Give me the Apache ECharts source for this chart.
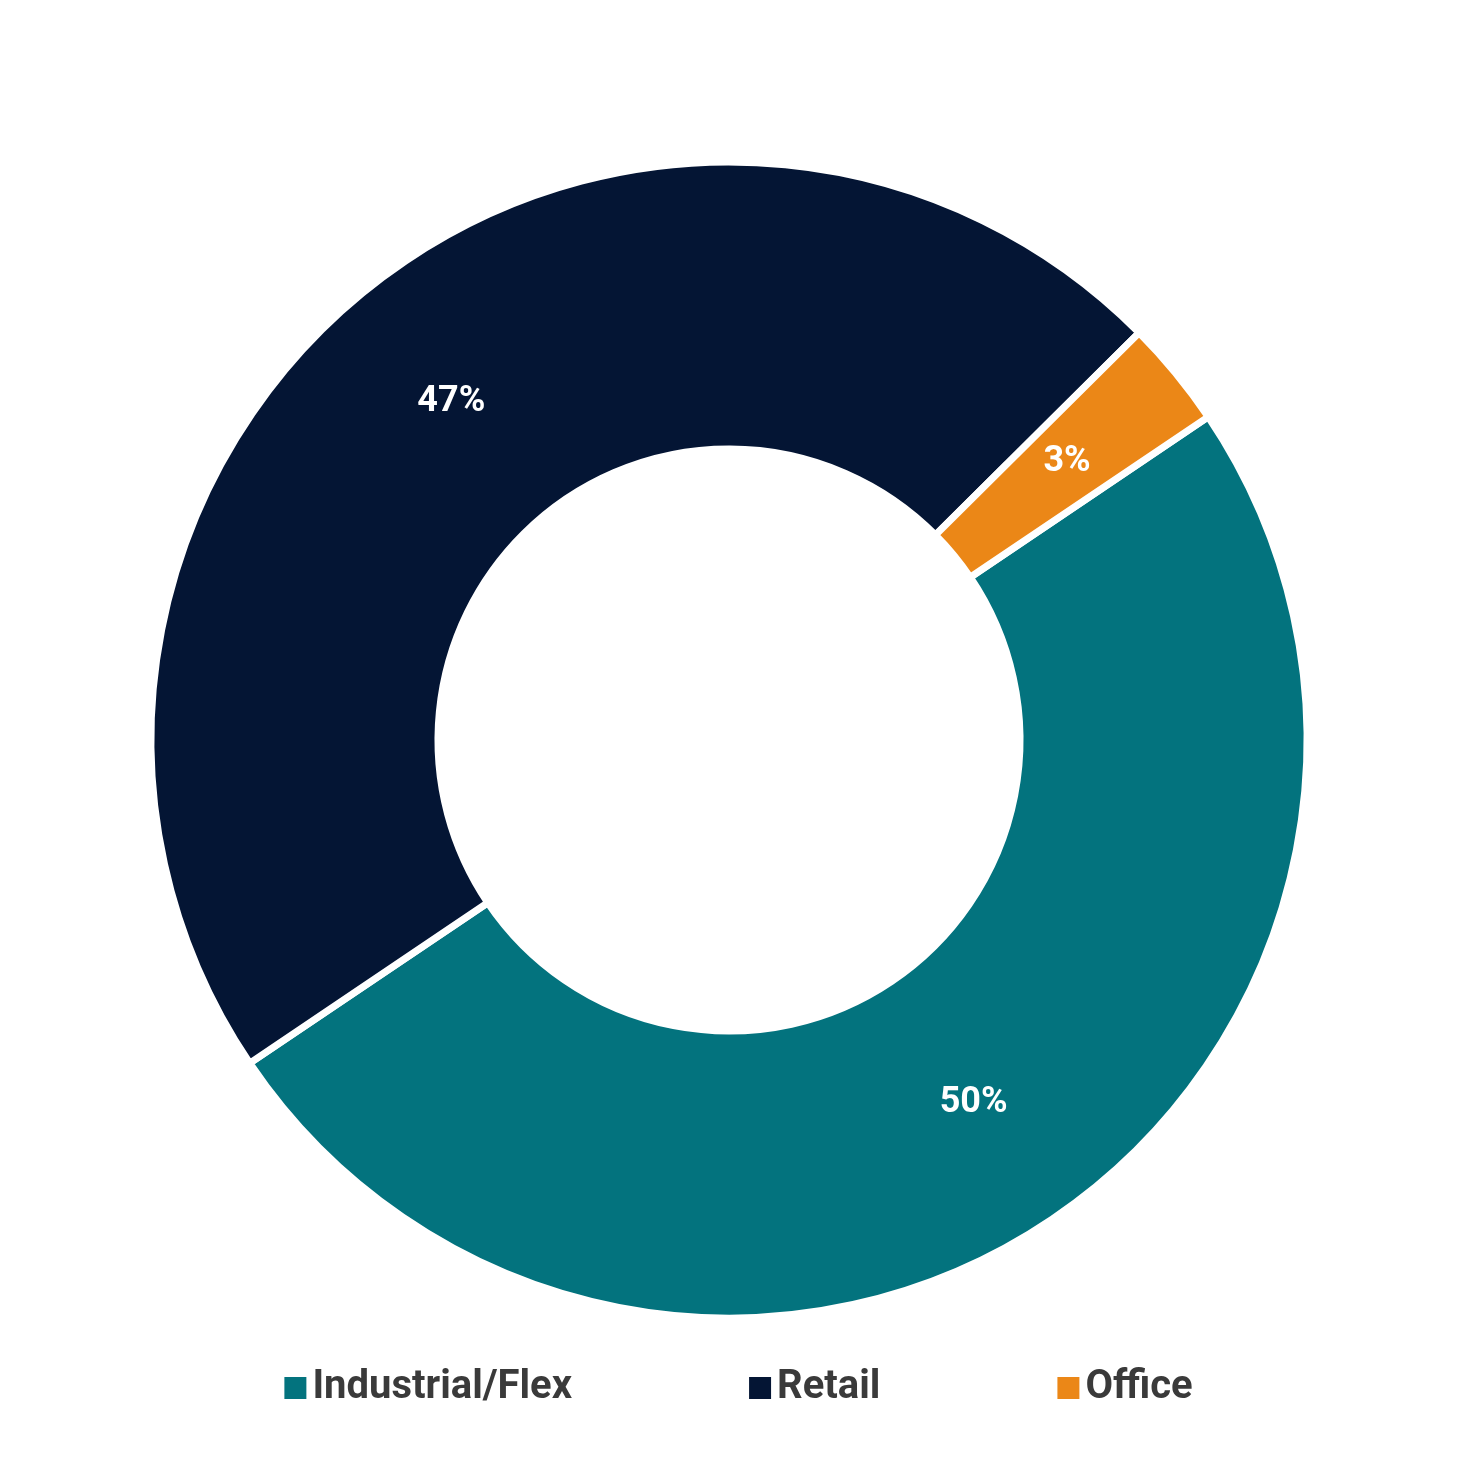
<!DOCTYPE html>
<html lang="en">
  <head>
    <meta charset="UTF-8" />
    <title>Chart</title>
    <script src="https://cdn.jsdelivr.net/npm/echarts@6/dist/echarts.min.js"></script>
    <style>html,body{margin:0;background:#fff}</style>
  </head>
  <body>
    <div id="main" style="width:1475px;height:1475px;"></div>
    <script>
      // data
      var categories = ['Industrial/Flex', 'Retail', 'Office'];
      var values = [50, 47, 3];
      var colors = ['#03737E', '#041534', '#EB8717'];

      var myChart = echarts.init(document.getElementById('main'));
      var option = {
        backgroundColor: '#ffffff',
        color: colors,
        legend: {
          bottom: 62,
          left: 'center',
          itemWidth: 24,
          itemHeight: 24,
          itemGap: 175,
          icon: 'rect',
          textStyle: {
            fontSize: 40,
            fontWeight: 'bold',
            color: '#3a3a3a',
            fontFamily: 'Liberation Sans Narrow, Roboto, sans-serif'
          },
          data: categories
        },
        series: [{
          type: 'pie',
          center: [729, 740],
          radius: [291, 578],
          startAngle: 34,
          clockwise: true,
          itemStyle: { borderColor: '#ffffff', borderWidth: 7 },
          label: {
            position: 'inside',
            formatter: '{c}%',
            color: '#ffffff',
            fontSize: 36,
            fontWeight: 'bold',
            fontFamily: 'Liberation Sans Narrow, Roboto, sans-serif'
          },
          labelLine: { show: false },
          data: categories.map(function (c, i) {
            return { name: c, value: values[i] };
          })
        }]
      };
      myChart.setOption(option);
    </script>
  </body>
</html>
